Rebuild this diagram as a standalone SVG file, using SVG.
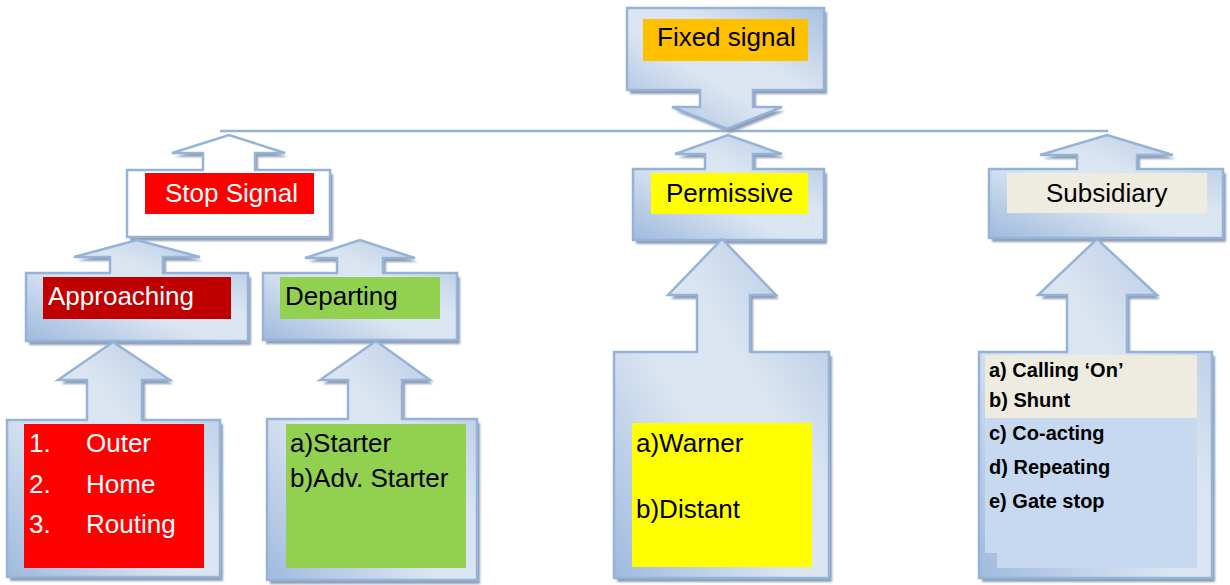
<svg xmlns="http://www.w3.org/2000/svg" width="1230" height="585" viewBox="0 0 1230 585">
<defs>
<linearGradient id="g" x1="0" y1="1" x2="1" y2="0">
<stop offset="0" stop-color="#9fbade"/>
<stop offset="0.42" stop-color="#dce6f2"/>
<stop offset="0.62" stop-color="#dbe5f1"/>
<stop offset="1" stop-color="#a9c1e2"/>
</linearGradient>
<filter id="blur" x="-5%" y="-5%" width="110%" height="110%"><feGaussianBlur stdDeviation="0.8"/></filter>
<path id="p-fixed" d="M627,8 H824 V90 H753 V107 H782 L727,129 L672,107 H700 V90 H627 Z"/>
<path id="p-stop" d="M127,237 V170 H203 V153 H172 L229,135 L285,153 H255 V170 H330 V237 Z"/>
<path id="p-perm" d="M633,240 V169 H705 V154 H675 L728,135 L782,154 H753 V169 H824 V240 Z"/>
<path id="p-subs" d="M989,238 V169 H1077 V155 H1040 L1107,135 L1173,155 H1137 V169 H1223 V238 Z"/>
<path id="p-appr" d="M26,341 V273 H110 V257 H74 L137,240 L200,257 H163 V273 H248 V341 Z"/>
<path id="p-dep" d="M263,340 V273 H337 V258 H305 L360,240 L415,258 H383 V273 H457 V340 Z"/>
<path id="p-outer" d="M7,577 V420 H87 V380 H58 L113,342 L170,380 H142 V420 H220 V577 Z"/>
<path id="p-start" d="M267,580 V419 H348 V380 H320 L376,341 L430,380 H402 V419 H477 V580 Z"/>
<path id="p-warn" d="M614,578 V352 H697 V295 H668 L722,239 L776,295 H750 V352 H829 V578 Z"/>
<path id="p-list" d="M979,578 V352 H1067 V295 H1038 L1097,239 L1157,295 H1127 V352 H1212 V578 Z"/>
</defs>
<style>
.shape{fill:url(#g);stroke:#95b3d7;stroke-width:2.5}
.white{fill:#ffffff;stroke:#95b3d7;stroke-width:2.5}
.shadow{fill:#8e9db4;filter:url(#blur)}
.t{font-family:"Liberation Sans",Arial,sans-serif;font-size:26px}
.b{font-family:"Liberation Sans",Arial,sans-serif;font-size:20px;font-weight:bold;fill:#000}
.blk{fill:#000}
.wht{fill:#fff}
.conn{stroke:#95b3d7;stroke-width:2.5;fill:none}
</style>
<rect width="1230" height="585" fill="#ffffff"/>

<g id="connectors">
<line class="conn" x1="220" y1="131" x2="1108" y2="131"/>
</g>

<g id="fixed-signal">
<use href="#p-fixed" class="shadow" transform="translate(3,4)"/>
<use href="#p-fixed" class="shape"/>
<rect x="643" y="19" width="165" height="42" fill="#ffc000"/>
<text class="t blk" x="657" y="46">Fixed signal</text>
</g>

<g id="stop-signal">
<use href="#p-stop" class="shadow" transform="translate(3,4)"/>
<use href="#p-stop" class="white"/>
<rect x="145" y="173" width="169" height="41" fill="#ff0000"/>
<text class="t wht" x="165" y="202">Stop Signal</text>
</g>

<g id="permissive">
<use href="#p-perm" class="shadow" transform="translate(3,4)"/>
<use href="#p-perm" class="shape"/>
<rect x="651" y="173" width="157" height="41" fill="#ffff00"/>
<text class="t blk" x="666" y="202">Permissive</text>
</g>

<g id="subsidiary">
<use href="#p-subs" class="shadow" transform="translate(3,4)"/>
<use href="#p-subs" class="shape"/>
<rect x="1007" y="173" width="200" height="40" fill="#eeece1"/>
<text class="t blk" x="1046" y="202">Subsidiary</text>
</g>

<g id="approaching">
<use href="#p-appr" class="shadow" transform="translate(3,4)"/>
<use href="#p-appr" class="shape"/>
<rect x="43" y="277" width="188" height="42" fill="#c00000"/>
<text class="t wht" x="48" y="305">Approaching</text>
</g>

<g id="departing">
<use href="#p-dep" class="shadow" transform="translate(3,4)"/>
<use href="#p-dep" class="shape"/>
<rect x="280" y="277" width="160" height="42" fill="#92d050"/>
<text class="t blk" x="285" y="305">Departing</text>
</g>

<g id="approaching-list">
<use href="#p-outer" class="shadow" transform="translate(3,4)"/>
<use href="#p-outer" class="shape"/>
<rect x="24" y="424" width="180" height="144" fill="#ff0000"/>
<text class="t wht" x="29" y="452">1.</text><text class="t wht" x="86" y="452">Outer</text>
<text class="t wht" x="29" y="493">2.</text><text class="t wht" x="86" y="493">Home</text>
<text class="t wht" x="29" y="533">3.</text><text class="t wht" x="86" y="533">Routing</text>
</g>

<g id="departing-list">
<use href="#p-start" class="shadow" transform="translate(3,4)"/>
<use href="#p-start" class="shape"/>
<rect x="286" y="424" width="180" height="144" fill="#92d050"/>
<text class="t blk" x="290" y="452">a)Starter</text>
<text class="t blk" x="290" y="487">b)Adv. Starter</text>
</g>

<g id="permissive-list">
<use href="#p-warn" class="shadow" transform="translate(3,4)"/>
<use href="#p-warn" class="shape"/>
<rect x="632" y="423" width="180" height="144" fill="#ffff00"/>
<text class="t blk" x="636" y="452">a)Warner</text>
<text class="t blk" x="636" y="518">b)Distant</text>
</g>

<g id="subsidiary-list">
<use href="#p-list" class="shadow" transform="translate(3,4)"/>
<use href="#p-list" class="shape"/>
<rect x="985" y="355" width="212" height="63" fill="#eeece1"/>
<path d="M985,418 H1197 V568 H997 V553 H985 Z" fill="#c6d9f1"/>
<text class="b" x="989" y="377">a) Calling ‘On’</text>
<text class="b" x="989" y="407">b) Shunt</text>
<text class="b" x="989" y="440">c) Co-acting</text>
<text class="b" x="989" y="474">d) Repeating</text>
<text class="b" x="989" y="508">e) Gate stop</text>
</g>
</svg>
